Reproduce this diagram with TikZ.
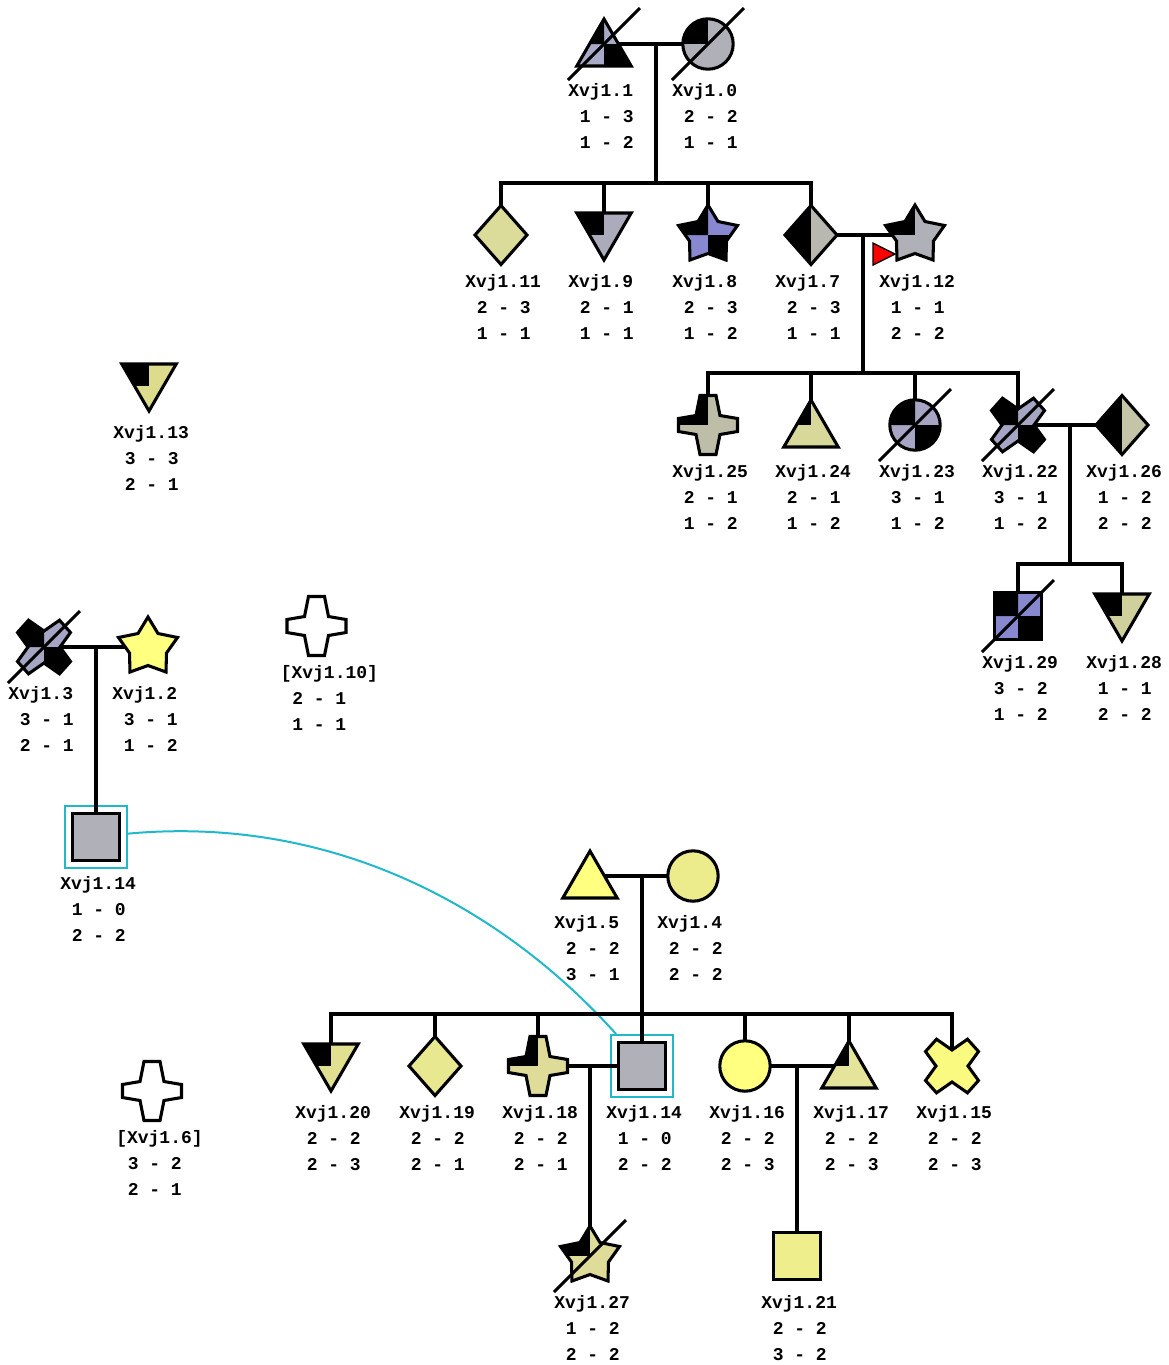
\documentclass[tikz,border=0pt]{standalone}
\usepackage{fontspec}
\usepackage{tikz}
\newfontfamily\pedfont{Liberation Mono}
\definecolor{cBlueA}{HTML}{A9A9C8}
\definecolor{cGrayA}{HTML}{B0B0B8}
\definecolor{cOliveA}{HTML}{DCDC9A}
\definecolor{cGrayB}{HTML}{ABABBB}
\definecolor{cViolet}{HTML}{8888D0}
\definecolor{cStone}{HTML}{B8B8B0}
\definecolor{cStoneB}{HTML}{BEBEA8}
\definecolor{cOliveB}{HTML}{D8D89A}
\definecolor{cBlueB}{HTML}{A6A6C4}
\definecolor{cStoneC}{HTML}{C4C4A8}
\definecolor{cOliveC}{HTML}{D0D09C}
\definecolor{cOliveD}{HTML}{DCDC8C}
\definecolor{cYellow}{HTML}{FFFF80}
\definecolor{cLemon}{HTML}{ECEC8C}
\definecolor{cOliveE}{HTML}{E0E090}
\definecolor{cOliveF}{HTML}{E8E890}
\definecolor{cOliveG}{HTML}{DEDC98}
\definecolor{cOliveH}{HTML}{E4E49A}
\definecolor{cLemonB}{HTML}{FAFA80}
\definecolor{cLemonC}{HTML}{EEEE8C}
\definecolor{cTwin}{HTML}{22B8CC}
% outlines of the symbols, centred on the person
\newcommand{\shpTri}{(0,-25) -- (27.2,22) -- (-27.2,22) -- cycle}
\newcommand{\shpInv}{(-27.2,-22) -- (27.2,-22) -- (0,25) -- cycle}
\newcommand{\shpDia}{(0,-29.5) -- (26,0) -- (0,29.5) -- (-26,0) -- cycle}
\newcommand{\shpCir}{(0,0) circle (25.2)}
\newcommand{\shpSqu}{(-23.3,-23.3) rectangle (23.3,23.3)}
\newcommand{\shpSta}{(0,-30) -- (10,-13.5) -- (29.5,-9.5) -- (18.5,6) -- (18,25) -- (0,18.5) -- (-18,25) -- (-18.5,6) -- (-29.5,-9.5) -- (-10,-13.5) -- cycle}
\newcommand{\shpPlu}{(-8,-29.5) -- (8,-29.5) -- (12,-9.5) -- (29.5,-6.5) -- (29.5,6.5) -- (12,9.5) -- (8,29.5) -- (-8,29.5) -- (-12,9.5) -- (-29.5,6.5) -- (-29.5,-6.5) -- (-12,-9.5) -- cycle}
\newcommand{\shpExx}{(-26.5,-14.5) -- (-15.5,-26.8) -- (0,-16) -- (15.5,-26.8) -- (26.5,-14.5) -- (16,0) -- (26.5,14.5) -- (15.5,26.8) -- (0,16) -- (-15.5,26.8) -- (-26.5,14.5) -- (-16,0) -- cycle}
% black parts
\newcommand{\qNone}{(0,0)}
\newcommand{\qOne}{(-40,-40) rectangle (0,0)}
\newcommand{\qTwo}{(-40,-40) rectangle (0,0) (0,0) rectangle (40,40)}
\newcommand{\qLeft}{(-40,-40) rectangle (0,40)}
% id, outline, colour, black part, name, first row, second row
\newcommand{\indiv}[7]{
  \begin{scope}[shift={(#1)}]
    \fill[#3] #2;
    \begin{scope}
      \clip #2;
      \fill[black] #4;
    \end{scope}
    \draw[pedline] #2;
    \node[pedtext] (#1-name) at (-36,52.5) {#5};
    \node[pedtext] (#1-rowa) at (-24.5,78) {#6};
    \node[pedtext] (#1-rowb) at (-24.5,104) {#7};
  \end{scope}
}
\newcommand{\deceased}[1]{
  \draw[pedline] ([shift={(-36,36)}]#1) -- ([shift={(36,-36)}]#1);
}
\tikzset{
  pedline/.style={line width=2.3pt,black},
  pedtext/.style={font=\pedfont\fontsize{13.5}{16}\selectfont\bfseries,anchor=base west,inner sep=0pt},
  twinbox/.style={draw=cTwin,line width=1.5pt,minimum size=46.5pt,inner sep=0pt},
  twinlink/.style={draw=cTwin,line width=1.5pt}
}
\begin{document}
\begin{tikzpicture}[x=0.75pt,y=-0.75pt]
  \useasboundingbox (0,0) rectangle (1169,1365);
  \foreach \n/\x/\y in {p1/604/44,p0/708/44,p11/501/235,p9/604/235,p8/708/235,p7/811/235,p12/915/235,
    p25/708/425,p24/811/425,p23/915/425,p22/1018/425,p26/1122/425,p29/1018/616,p28/1122/616,
    p13/149/386,p3/44/647,p2/148/647,p10/316.5/626,pA/96/837,p5/590/876,p4/693/876,
    p20/331/1066,p19/435/1066,p18/538/1066,pB/642/1066,p16/745/1066,p17/849/1066,p15/952/1066,
    p6/152/1091,p27/590/1256,p21/797/1256}
    \coordinate (\n) at (\x,\y);
  \foreach \n/\x/\y in {barA/656/183,barB/863/373,barC/1070/564,barD/642/1014,
    mateA/656/44,mateB/863/235,mateC/1070/425,mateD/96/647,mateE/642/876,mateF/590/1066,mateG/797/1066}
    \coordinate (\n) at (\x,\y);
  % twins
  \node[twinbox] (twinA) at (pA) {};
  \node[twinbox] (twinB) at (pB) {};
  \draw[twinlink] (twinA.6) .. controls (330,815) and (500,905) .. (twinB.129);
  % families
  \draw[pedline] (p1) -- (p0);
  \draw[pedline] (mateA) -- (barA);
  \foreach \k in {p11,p9,p8,p7}
    \draw[pedline] (barA) -| (\k);
  \draw[pedline] (p7) -- (p12);
  \draw[pedline] (mateB) -- (barB);
  \foreach \k in {p25,p24,p23,p22}
    \draw[pedline] (barB) -| (\k);
  \draw[pedline] (p22) -- (p26);
  \draw[pedline] (mateC) -- (barC);
  \foreach \k in {p29,p28}
    \draw[pedline] (barC) -| (\k);
  \draw[pedline] (p3) -- (p2);
  \draw[pedline] (mateD) -- (pA);
  \draw[pedline] (p5) -- (p4);
  \draw[pedline] (mateE) -- (barD);
  \foreach \k in {p20,p19,p18,pB,p16,p17,p15}
    \draw[pedline] (barD) -| (\k);
  \draw[pedline] (p18) -- (pB);
  \draw[pedline] (mateF) -- (p27);
  \draw[pedline] (p16) -- (p17);
  \draw[pedline] (mateG) -- (p21);
  % people
  \indiv{p1}{\shpTri}{cBlueA}{\qTwo}{Xvj1.1}{1 - 3}{1 - 2}
  \indiv{p0}{\shpCir}{cGrayA}{\qOne}{Xvj1.0}{2 - 2}{1 - 1}
  \indiv{p11}{\shpDia}{cOliveA}{\qNone}{Xvj1.11}{2 - 3}{1 - 1}
  \indiv{p9}{\shpInv}{cGrayB}{\qOne}{Xvj1.9}{2 - 1}{1 - 1}
  \indiv{p8}{\shpSta}{cViolet}{\qTwo}{Xvj1.8}{2 - 3}{1 - 2}
  \indiv{p7}{\shpDia}{cStone}{\qLeft}{Xvj1.7}{2 - 3}{1 - 1}
  \indiv{p12}{\shpSta}{cGrayA}{\qOne}{Xvj1.12}{1 - 1}{2 - 2}
  \indiv{p25}{\shpPlu}{cStoneB}{\qOne}{Xvj1.25}{2 - 1}{1 - 2}
  \indiv{p24}{\shpTri}{cOliveB}{\qOne}{Xvj1.24}{2 - 1}{1 - 2}
  \indiv{p23}{\shpCir}{cBlueB}{\qTwo}{Xvj1.23}{3 - 1}{1 - 2}
  \indiv{p22}{\shpExx}{cBlueB}{\qTwo}{Xvj1.22}{3 - 1}{1 - 2}
  \indiv{p26}{\shpDia}{cStoneC}{\qLeft}{Xvj1.26}{1 - 2}{2 - 2}
  \indiv{p29}{\shpSqu}{cViolet}{\qTwo}{Xvj1.29}{3 - 2}{1 - 2}
  \indiv{p28}{\shpInv}{cOliveC}{\qOne}{Xvj1.28}{1 - 1}{2 - 2}
  \indiv{p13}{\shpInv}{cOliveD}{\qOne}{Xvj1.13}{3 - 3}{2 - 1}
  \indiv{p3}{\shpExx}{cBlueB}{\qTwo}{Xvj1.3}{3 - 1}{2 - 1}
  \indiv{p2}{\shpSta}{cYellow}{\qNone}{Xvj1.2}{3 - 1}{1 - 2}
  \indiv{p10}{\shpPlu}{white}{\qNone}{[Xvj1.10]}{2 - 1}{1 - 1}
  \indiv{pA}{\shpSqu}{cGrayA}{\qNone}{Xvj1.14}{1 - 0}{2 - 2}
  \indiv{p5}{\shpTri}{cYellow}{\qNone}{Xvj1.5}{2 - 2}{3 - 1}
  \indiv{p4}{\shpCir}{cLemon}{\qNone}{Xvj1.4}{2 - 2}{2 - 2}
  \indiv{p20}{\shpInv}{cOliveE}{\qOne}{Xvj1.20}{2 - 2}{2 - 3}
  \indiv{p19}{\shpDia}{cOliveF}{\qNone}{Xvj1.19}{2 - 2}{2 - 1}
  \indiv{p18}{\shpPlu}{cOliveG}{\qOne}{Xvj1.18}{2 - 2}{2 - 1}
  \indiv{pB}{\shpSqu}{cGrayA}{\qNone}{Xvj1.14}{1 - 0}{2 - 2}
  \indiv{p16}{\shpCir}{cYellow}{\qNone}{Xvj1.16}{2 - 2}{2 - 3}
  \indiv{p17}{\shpTri}{cOliveH}{\qOne}{Xvj1.17}{2 - 2}{2 - 3}
  \indiv{p15}{\shpExx}{cLemonB}{\qNone}{Xvj1.15}{2 - 2}{2 - 3}
  \indiv{p6}{\shpPlu}{white}{\qNone}{[Xvj1.6]}{3 - 2}{2 - 1}
  \indiv{p27}{\shpSta}{cOliveG}{\qOne}{Xvj1.27}{1 - 2}{2 - 2}
  \indiv{p21}{\shpSqu}{cLemonC}{\qNone}{Xvj1.21}{2 - 2}{3 - 2}
  % deceased
  \foreach \k in {p1,p0,p23,p22,p29,p3,p27}
    \deceased{\k}
  % proband
  \coordinate (flag) at (873,243);
  \draw[fill=red,line width=1pt] (flag) -- (895,254) -- (873,265) -- cycle;
\end{tikzpicture}
\end{document}
